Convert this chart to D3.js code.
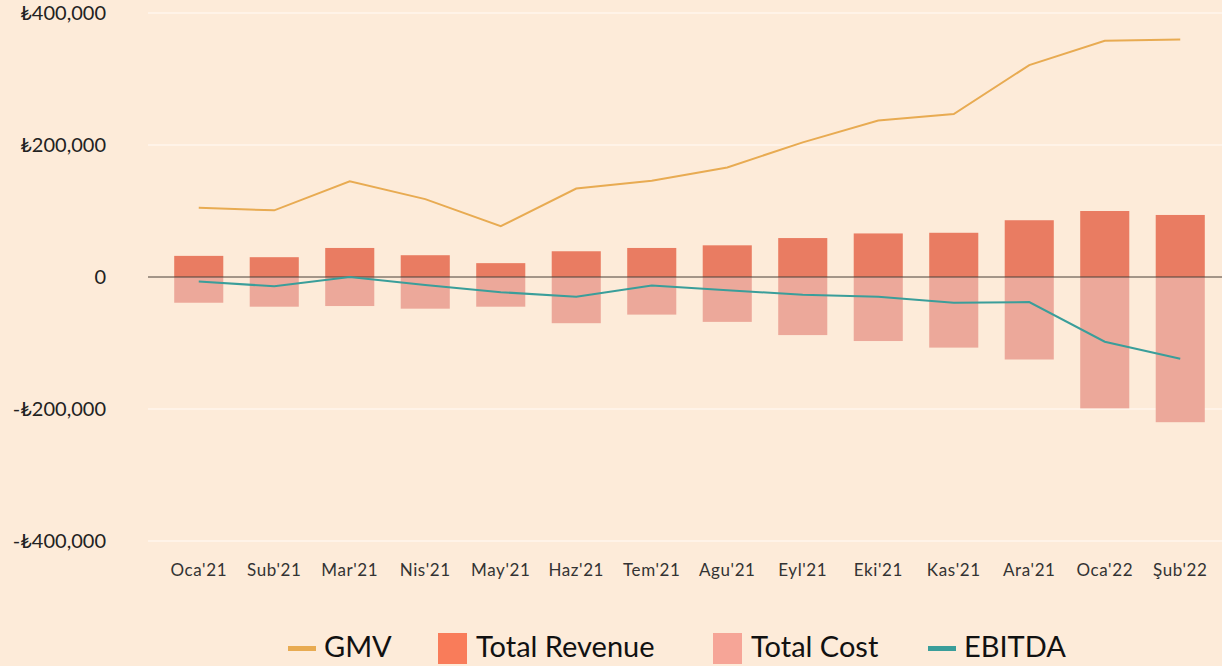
<!DOCTYPE html>
<html>
<head>
<meta charset="utf-8">
<script src="https://cdn.jsdelivr.net/npm/d3@7"></script>
<style>
  html, body { margin: 0; padding: 0; background: #fdebd9; }
  svg { display: block; font-family: "Lato", "DejaVu Sans", sans-serif; }
</style>
</head>
<body>
<div id="chart"></div>
<script>
// Chart values
const months = ["Oca'21", "Sub'21", "Mar'21", "Nis'21", "May'21", "Haz'21", "Tem'21",
  "Agu'21", "Eyl'21", "Eki'21", "Kas'21", "Ara'21", "Oca'22", "Şub'22"];
const gmv = [105000, 101000, 145000, 118000, 77000, 134000, 146000, 166000, 204000, 237000, 247000, 321000, 358000, 360000];
const revenue = [32000, 30000, 44000, 33000, 21000, 39000, 44000, 48000, 59000, 66000, 67000, 86000, 100000, 94000];
const cost = [-39000, -45000, -44000, -48000, -45000, -70000, -57000, -68000, -88000, -97000, -107000, -125000, -199000, -220000];
const ebitda = [-7000, -14000, 0, -12000, -23000, -30000, -13000, -20000, -27000, -30000, -39000, -38000, -98000, -124000];
const yTicks = [-400000, -200000, 0, 200000, 400000];

const W = 1222, H = 666;
const colors = {
  gmv: "#e8ab52",
  revenue: "#e97c62",
  cost: "#eca89a",
  ebitda: "#3a9e9a",
  revenueKey: "#f97c5a",
  costKey: "#f6a597"
};

const svg = d3.select("#chart").append("svg")
  .attr("width", W)
  .attr("height", H);

const plotLeft = 148, plotRight = W;

const x = d3.scaleBand()
  .domain(months)
  .range([161, 1218])
  .paddingInner(0.35)
  .paddingOuter(0.175);

const y = d3.scaleLinear()
  .domain([-400000, 400000])
  .range([541, 13]);

const fmt = v => v === 0 ? "0" : (v < 0 ? "-₺" : "₺") + d3.format(",")(Math.abs(v));

// Grid lines
svg.append("g")
  .selectAll("line")
  .data(yTicks.filter(d => d !== 0))
  .enter().append("line")
    .attr("x1", plotLeft)
    .attr("x2", plotRight)
    .attr("y1", d => y(d))
    .attr("y2", d => y(d))
    .attr("stroke", "#fff6ec")
    .attr("stroke-width", 1.5);

// Y axis labels
const yAxis = svg.append("g")
  .attr("transform", `translate(106,0)`)
  .call(d3.axisLeft(y).tickValues(yTicks).tickSize(0).tickPadding(0).tickFormat(fmt));
yAxis.select(".domain").remove();
yAxis.selectAll("text")
  .attr("font-size", 20)
  .attr("fill", "#222")
  .attr("font-family", "Lato, 'DejaVu Sans', sans-serif");

// Bars: revenue above zero, cost below
const bx = d => x(d);
svg.append("g")
  .selectAll("rect")
  .data(months)
  .enter().append("rect")
    .attr("x", bx)
    .attr("width", x.bandwidth())
    .attr("y", (d, i) => y(revenue[i]))
    .attr("height", (d, i) => y(0) - y(revenue[i]))
    .attr("fill", colors.revenue);

svg.append("g")
  .selectAll("rect")
  .data(months)
  .enter().append("rect")
    .attr("x", bx)
    .attr("width", x.bandwidth())
    .attr("y", y(0))
    .attr("height", (d, i) => y(cost[i]) - y(0))
    .attr("fill", colors.cost);

// Zero line
svg.append("line")
  .attr("x1", plotLeft)
  .attr("x2", plotRight)
  .attr("y1", y(0))
  .attr("y2", y(0))
  .attr("stroke", "#4a4038")
  .attr("stroke-width", 1);

// Lines
const cx = d => x(d) + x.bandwidth() / 2;
const lineGen = vals => d3.line()
  .x(d => cx(d))
  .y((d, i) => y(vals[i]));

svg.append("path")
  .datum(months)
  .attr("d", lineGen(gmv))
  .attr("fill", "none")
  .attr("stroke", colors.gmv)
  .attr("stroke-width", 2);

svg.append("path")
  .datum(months)
  .attr("d", lineGen(ebitda))
  .attr("fill", "none")
  .attr("stroke", colors.ebitda)
  .attr("stroke-width", 2);

// X axis labels
const xAxis = svg.append("g")
  .attr("transform", `translate(0,556)`)
  .call(d3.axisBottom(x).tickSize(0).tickPadding(8));
xAxis.select(".domain").remove();
xAxis.selectAll("text")
  .attr("font-size", 17)
  .attr("letter-spacing", 0.6)
  .attr("fill", "#333")
  .attr("font-family", "Lato, 'DejaVu Sans', sans-serif");

// Legend
const legendItems = [
  { label: "GMV", type: "line", color: colors.gmv, x: 288 },
  { label: "Total Revenue", type: "rect", color: colors.revenueKey, x: 438 },
  { label: "Total Cost", type: "rect", color: colors.costKey, x: 713 },
  { label: "EBITDA", type: "line", color: colors.ebitda, x: 928 }
];
const legend = svg.append("g").attr("transform", "translate(0,649)");
legendItems.forEach(item => {
  const g = legend.append("g").attr("transform", `translate(${item.x},0)`);
  if (item.type === "line") {
    g.append("rect")
      .attr("x", 0).attr("y", -3)
      .attr("width", 28).attr("height", 5)
      .attr("fill", item.color);
    g.append("text")
      .attr("x", 36).attr("y", 8)
      .attr("font-size", 29)
      .attr("fill", "#111")
      .text(item.label);
  } else {
    g.append("rect")
      .attr("x", 0).attr("y", -16)
      .attr("width", 29).attr("height", 31)
      .attr("fill", item.color);
    g.append("text")
      .attr("x", 38).attr("y", 8)
      .attr("font-size", 29)
      .attr("fill", "#111")
      .text(item.label);
  }
});
</script>
</body>
</html>
